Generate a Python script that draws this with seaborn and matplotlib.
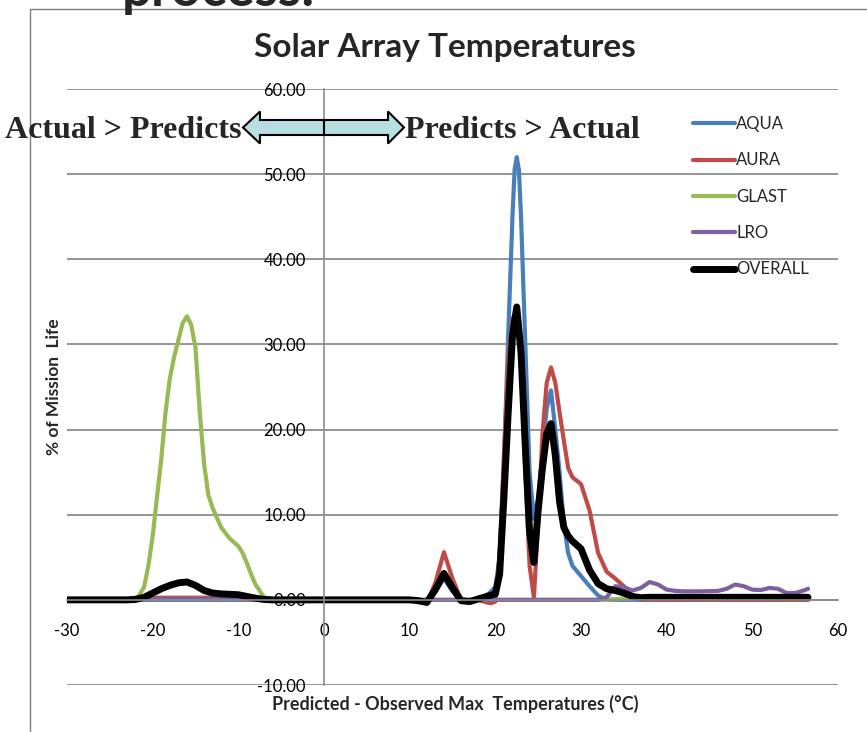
import matplotlib
matplotlib.use("Agg")
import pandas as pd
import seaborn as sns
from matplotlib import pyplot as plt
from matplotlib.patches import Polygon
from matplotlib.lines import Line2D

# readings: x = predicted - observed max temp (C), y = % of mission life
aqua_t = [-30, 10, 11, 12, 13, 14, 15, 16, 17, 18, 19, 20,
          20.5, 21, 21.5, 22, 22.25, 22.5, 22.75, 23, 23.5, 24, 24.5, 25, 25.5, 26, 26.5, 27,
          27.5, 28, 28.5, 29, 30, 31, 32, 33, 56.5]
aqua_v = [0, 0, 0, -0.1, 1.0, 2.5, 1.0, -0.1, -0.2, 0.1, 0.5, 1.5,
          5, 16, 31, 45, 50.5, 52, 50.5, 45, 30, 15, 9.5, 12, 17, 22.5, 24.6, 20,
          15, 9, 5.5, 4.0, 2.8, 1.6, 0.5, 0, 0]

aura_t = [-30, -23, -22, -10, -9, 10, 11, 12, 13, 14, 15, 16, 17, 18, 19, 19.5, 20,
          20.5, 21, 21.5, 22, 22.5, 23, 23.5, 24, 24.5, 25, 25.5, 26, 26.5, 27, 27.5, 28, 28.5,
          29, 30, 31, 32, 33, 34, 35, 36, 37, 38, 56.5]
aura_v = [0, 0, 0.25, 0.25, 0, 0, 0, -0.3, 2.0, 5.6, 2.5, 0, -0.2, 0, -0.3, -0.4, -0.2,
          5, 17, 28, 33, 34, 28, 15, 4, 0.3, 9, 19.5, 25.5, 27.3, 25.5, 22, 18.7, 15.5,
          14.4, 13.6, 10.5, 5.5, 3.3, 2.5, 1.6, 0.5, 0.05, 0, 0]

glast_t = [-30, -23, -22, -21, -20.5, -20, -19.5, -19, -18.5, -18, -17.5, -17, -16.5, -16,
           -15.5, -15, -14.5, -14, -13.5, -13, -12, -11, -10, -9.5, -9, -8.5, -8, -7, -6,
           33, 35, 56.5]
glast_v = [0, 0, -0.15, 1.5, 4, 7.5, 12, 16.5, 22, 26, 28.5, 30.5, 32.5, 33.3,
           32.3, 29.6, 22, 16, 12.3, 10.8, 8.5, 7.2, 6.3, 5.5, 4.3, 3, 1.8, 0.3, 0,
           0, 0.15, 0.15]

lro_t = [-30, -23, -22, -10, -8, 32, 33, 34, 35, 36, 37, 38, 39, 40, 41, 42, 44, 46,
         47, 48, 49, 50, 51, 52, 53, 54, 55, 56, 56.5]
lro_v = [0, 0, 0.1, 0.1, 0, 0, 0.3, 1.6, 1.5, 1.1, 1.4, 2.1, 1.8, 1.2, 1.05, 1.0, 1.0, 1.05,
         1.3, 1.8, 1.6, 1.2, 1.15, 1.4, 1.3, 0.8, 0.8, 1.1, 1.3]

overall_t = [-30, -23, -22, -21, -20, -19, -18, -17, -16, -15, -14, -13, -12, -11, -10,
             -9, -8, -7, -6, 10, 11, 12, 13, 14, 15, 16, 17, 18, 19, 20,
             20.5, 21, 21.5, 22, 22.5, 23, 23.5, 24, 24.5, 25, 25.5, 26, 26.5, 27, 27.5, 28, 28.5,
             29, 30, 31, 32, 33, 34, 35, 36, 37, 38, 56.5]
overall_v = [0, 0, 0.05, 0.3, 0.8, 1.3, 1.7, 2.0, 2.1, 1.7, 1.1, 0.8, 0.7, 0.65, 0.6,
             0.4, 0.2, 0.05, 0, 0, -0.1, -0.3, 1.2, 3.1, 1.4, -0.1, -0.2, 0.1, 0.4, 0.7,
             3, 12, 22, 31, 34.4, 29, 18, 8, 4.4, 10.5, 15.5, 19.5, 20.7, 17, 11.5, 8.5, 7.5,
             6.9, 6.0, 3.5, 1.9, 1.3, 1.1, 0.8, 0.4, 0.25, 0.3, 0.3]

x_ticks = [-30, -20, -10, 0, 10, 20, 30, 40, 50, 60]
y_ticks = [-10, 0, 10, 20, 30, 40, 50, 60]

W, H = 867, 732


def fx(px, py):
    # pixel -> figure fraction
    return (px / W, 1 - py / H)


def main():
    sns.set_theme(style="white")
    plt.rcParams["font.family"] = ["Lato", "DejaVu Sans"]

    fig = plt.figure(figsize=(W / 100, H / 100), dpi=100)
    ax = fig.add_axes([67 / W, 1 - 685 / H, 771 / W, 596 / H])

    series = [
        ("AQUA", aqua_t, aqua_v, "#4a7ebb", 3.0),
        ("AURA", aura_t, aura_v, "#be4b48", 3.0),
        ("GLAST", glast_t, glast_v, "#98b954", 3.0),
        ("LRO", lro_t, lro_v, "#7d60a0", 3.0),
        ("OVERALL", overall_t, overall_v, "black", 5.0),
    ]
    for name, t, v, color, lw in series:
        df = pd.DataFrame({"temp": t, "pct": v})
        sns.lineplot(data=df, x="temp", y="pct", color=color, linewidth=lw, label=name,
                     ax=ax, sort=False, solid_joinstyle="round", solid_capstyle="round")

    ax.set(xlim=(-30, 60), ylim=(-10, 60))
    ax.set_xticks(x_ticks)
    ax.set_xticklabels([str(t) for t in x_ticks])
    ax.set_yticks(y_ticks)
    ax.set_yticklabels([f"{t:.2f}" for t in y_ticks])
    ax.yaxis.grid(True, color="#8c8c8c", linewidth=1.3)
    ax.xaxis.grid(False)
    ax.set_axisbelow(True)

    for side in ["top", "right"]:
        ax.spines[side].set_visible(False)
    ax.spines["left"].set_position(("data", 0))
    ax.spines["bottom"].set_position(("data", 0))
    for side in ["left", "bottom"]:
        ax.spines[side].set_color("#8c8c8c")
        ax.spines[side].set_linewidth(1.2)
    ax.tick_params(axis="x", length=0, pad=17, labelsize=12, labelcolor="black")
    ax.tick_params(axis="y", length=0, pad=13, labelsize=12, labelcolor="black")

    ax.set_xlabel("Predicted - Observed Max  Temperatures (°C)", fontsize=13, fontweight="bold")
    ax.xaxis.set_label_coords(0.503, -0.016)
    ax.set_ylabel("% of Mission  Life", fontsize=12.5, fontweight="bold")
    ax.yaxis.set_label_coords(-0.007, 0.5)

    ax.legend(loc="upper left", bbox_to_anchor=fx(693, 116), bbox_transform=fig.transFigure,
              frameon=False, fontsize=12, handlelength=2.5, handletextpad=0.1,
              labelspacing=1.22, borderpad=0, borderaxespad=0)

    fig.text(*fx(445, 47), "Solar Array Temperatures", ha="center", va="center",
             fontsize=24, fontweight="bold")

    # chart area border and clipped slide text above it
    fig.add_artist(Line2D([30 / W, 30 / W, 1], [0, 1 - 9 / H, 1 - 9 / H],
                          transform=fig.transFigure, color="#7f7f7f", linewidth=1))
    fig.text(*fx(122, 6), "process:", ha="left", va="baseline", fontsize=38,
             fontweight="bold")

    # double arrow between the two annotations
    fill = "#b7dfe2"
    left_arrow = [fx(243, 127.5), fx(260, 111.5), fx(260, 120), fx(324, 120),
                  fx(324, 135), fx(260, 135), fx(260, 143.5)]
    right_arrow = [fx(324, 120), fx(388, 120), fx(388, 111.5), fx(404, 127.5),
                   fx(388, 143.5), fx(388, 135), fx(324, 135)]
    for pts in [left_arrow, right_arrow]:
        fig.add_artist(Polygon(pts, closed=True, transform=fig.transFigure,
                               facecolor=fill, edgecolor="black", linewidth=1.5))
    serif = ["Liberation Serif", "DejaVu Serif"]
    fig.text(*fx(241, 130), "Actual > Predicts", ha="right", va="center",
             fontsize=23, fontweight="bold", family=serif)
    fig.text(*fx(405, 130), "Predicts > Actual", ha="left", va="center",
             fontsize=23, fontweight="bold", family=serif)

    fig.savefig("out.png", dpi=100)


if __name__ == "__main__":
    main()
